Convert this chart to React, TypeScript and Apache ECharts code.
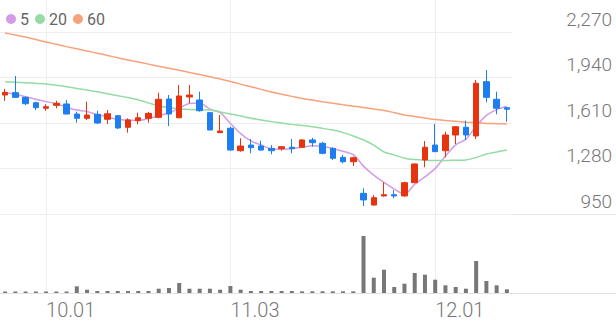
import React, { useEffect, useRef } from "react";
import * as echarts from "echarts";

const dates = [
  "09.25", "09.26", "09.29", "09.30",
  "10.01", "10.02", "10.10", "10.13", "10.14", "10.15", "10.16", "10.17",
  "10.20", "10.21", "10.22", "10.23", "10.24", "10.27", "10.28", "10.29", "10.30", "10.31",
  "11.03", "11.04", "11.05", "11.06", "11.07", "11.10", "11.11", "11.12", "11.13", "11.14",
  "11.17", "11.18", "11.19", "11.20", "11.21", "11.24", "11.25", "11.26", "11.27", "11.28",
  "12.01", "12.02", "12.03", "12.04", "12.05", "12.08", "12.09", "12.10",
];

const opens = [
  1813, 1830, 1796, 1757, 1717, 1738, 1748, 1675, 1644, 1673,
  1637, 1663, 1579, 1627, 1644, 1651, 1784, 1648, 1799, 1777,
  1685, 1540, 1572, 1409, 1450, 1443, 1426, 1424, 1434, 1434,
  1487, 1463, 1426, 1361, 1329, 1100, 1015, 1081, 1090, 1081,
  1177, 1342, 1450, 1409, 1523, 1579, 1516, 1910, 1782, 1721,
];
const closes = [
  1831, 1796, 1750, 1721, 1728, 1753, 1675, 1644, 1668, 1610,
  1677, 1574, 1632, 1648, 1680, 1782, 1675, 1806, 1813, 1699,
  1559, 1552, 1414, 1443, 1431, 1414, 1409, 1438, 1424, 1487,
  1467, 1390, 1354, 1329, 1358, 1052, 1068, 1090, 1081, 1177,
  1313, 1434, 1402, 1523, 1583, 1523, 1898, 1796, 1717, 1710,
];
const lows = [
  1770, 1795, 1740, 1704, 1699, 1717, 1673, 1612, 1632, 1603,
  1603, 1566, 1540, 1600, 1612, 1644, 1588, 1645, 1753, 1692,
  1559, 1540, 1409, 1402, 1390, 1409, 1383, 1409, 1390, 1433,
  1438, 1383, 1342, 1318, 1298, 1008, 1012, 1076, 1064, 1076,
  1175, 1289, 1402, 1361, 1458, 1487, 1494, 1760, 1673, 1619,
];
const highs = [
  1857, 1951, 1801, 1765, 1746, 1772, 1777, 1692, 1765, 1699,
  1704, 1668, 1644, 1685, 1689, 1830, 1813, 1886, 1886, 1837,
  1685, 1668, 1583, 1499, 1494, 1482, 1450, 1441, 1494, 1492,
  1503, 1474, 1434, 1378, 1366, 1136, 1088, 1180, 1124, 1184,
  1315, 1479, 1603, 1547, 1586, 1627, 1922, 1994, 1837, 1721,
];
const volumes = [
  150, 150, 150, 150, 150, 150, 150, 670, 330, 200,
  200, 200, 200, 200, 200, 430, 500, 1000, 430, 430,
  430, 330, 700, 330, 200, 200, 200, 200, 200, 170,
  170, 170, 170, 170, 170, 5700, 1530, 2330, 600, 930,
  2000, 1830, 1330, 770, 600, 430, 3200, 1200, 770, 370,
];
const ma5 = [
  1833, 1818, 1801, 1782, 1765, 1750, 1725, 1704, 1694, 1670,
  1655, 1635, 1632, 1628, 1642, 1663, 1683, 1718, 1751, 1755,
  1710, 1686, 1607, 1533, 1480, 1451, 1422, 1419, 1425, 1434,
  1445, 1441, 1424, 1405, 1380, 1297, 1232, 1179, 1130, 1094,
  1166, 1219, 1281, 1370, 1451, 1493, 1586, 1665, 1707, 1729,
];
const ma20 = [
  1910, 1906, 1902, 1898, 1893, 1884, 1873, 1861, 1849, 1836,
  1822, 1808, 1795, 1778, 1756, 1733, 1720, 1712, 1708, 1706,
  1704, 1690, 1675, 1660, 1644, 1632, 1620, 1610, 1600, 1592,
  1583, 1571, 1559, 1540, 1516, 1487, 1450, 1400, 1378, 1355,
  1345, 1340, 1338, 1338, 1340, 1342, 1360, 1385, 1400, 1414,
];
const ma60 = [
  2263, 2248, 2233, 2216, 2197, 2181, 2164, 2148, 2132, 2116,
  2100, 2083, 2067, 2052, 2037, 2022, 2007, 1992, 1977, 1961,
  1946, 1929, 1911, 1892, 1873, 1854, 1835, 1819, 1803, 1787,
  1776, 1764, 1753, 1742, 1732, 1722, 1711, 1701, 1685, 1668,
  1657, 1646, 1635, 1628, 1622, 1616, 1611, 1607, 1605, 1603,
];
const priceTicks = [950, 1280, 1610, 1940, 2270];
const tickLabels = ["10.01", "11.03", "12.01"];

const UP = "#e6340e";
const DOWN = "#1e7ef0";
const FONT = "Roboto, 'Noto Sans', sans-serif";

export default function App() {
  const ref = useRef<HTMLDivElement>(null);
  useEffect(() => {
    if (!ref.current) return;
    const chart = echarts.init(ref.current, null, { renderer: "svg" });
    const candle = opens.map((o, i) => [o, closes[i], lows[i], highs[i]]);
    const option: any = {
      animation: false,
      backgroundColor: "#fff",
      textStyle: { fontFamily: FONT },
      legend: {
        left: 1,
        top: 6,
        icon: "circle",
        itemWidth: 10,
        itemHeight: 10,
        itemGap: 6,
        data: ["5", "20", "60"],
        textStyle: { fontSize: 16, color: "#666", fontFamily: FONT, padding: [0, 0, 0, -1] },
      },
      grid: [
        { left: 0, top: 32, width: 512, height: 182 },
        { left: 0, top: 230, width: 512, height: 63 },
      ],
      xAxis: [
        {
          type: "category",
          gridIndex: 0,
          data: dates,
          boundaryGap: true,
          show: false,
        },
        {
          type: "category",
          gridIndex: 1,
          data: dates,
          boundaryGap: true,
          axisLine: { show: false },
          axisTick: { show: false },
          splitLine: { show: false },
          axisLabel: {
            interval: (idx: number, val: string) => tickLabels.indexOf(val) >= 0,
            align: "left",
            margin: 7,
            fontSize: 20,
            color: "#777",
            fontWeight: 300,
            fontFamily: FONT,
          },
        },
      ],
      yAxis: [
        {
          type: "value",
          gridIndex: 0,
          position: "right",
          min: priceTicks[0],
          max: priceTicks[priceTicks.length - 1],
          interval: priceTicks[1] - priceTicks[0],
          axisLine: { show: false },
          axisTick: { show: false },
          splitLine: { show: true, lineStyle: { color: "#efefef", width: 1 } },
          axisLabel: {
            align: "right",
            verticalAlign: "bottom",
            margin: 100,
            fontSize: 19,
            lineHeight: 20,
            padding: [0, 0, 3, 0],
            color: "#777",
            fontWeight: 300,
            fontFamily: FONT,
            formatter: (v: number) => v.toLocaleString("en-US"),
          },
        },
        {
          type: "value",
          gridIndex: 1,
          min: 0,
          max: 6300,
          show: false,
          splitLine: { show: false },
        },
      ],
      series: [
        {
          type: "candlestick",
          name: "price",
          xAxisIndex: 0,
          yAxisIndex: 0,
          data: candle,
          barWidth: 6,
          itemStyle: {
            color: UP,
            color0: DOWN,
            borderColor: UP,
            borderColor0: DOWN,
            borderWidth: 1,
          },
          z: 5,
        },
        {
          type: "line",
          name: "5",
          data: ma5,
          xAxisIndex: 0,
          yAxisIndex: 0,
          symbol: "none",
          smooth: 0.3,
          color: "#d49be9",
          lineStyle: { color: "#d49be9", width: 1.5 },
          z: 4,
        },
        {
          type: "line",
          name: "20",
          data: ma20,
          xAxisIndex: 0,
          yAxisIndex: 0,
          symbol: "none",
          smooth: 0.3,
          color: "#94dba4",
          lineStyle: { color: "#94dba4", width: 1.5 },
          z: 4,
        },
        {
          type: "line",
          name: "60",
          data: ma60,
          xAxisIndex: 0,
          yAxisIndex: 0,
          symbol: "none",
          smooth: 0.3,
          color: "#f8a27c",
          lineStyle: { color: "#f8a27c", width: 1.5 },
          z: 4,
        },
        {
          type: "bar",
          name: "volume",
          xAxisIndex: 1,
          yAxisIndex: 1,
          data: volumes,
          barWidth: 4,
          itemStyle: { color: "#777" },
        },
      ],
    };
    chart.setOption(option);

    const xs = tickLabels.map((d) => chart.convertToPixel({ xAxisIndex: 0 }, d) as number);
    const yBottom = chart.convertToPixel({ yAxisIndex: 0 }, priceTicks[0]) as number;
    const yVol = chart.convertToPixel({ yAxisIndex: 1 }, 0) as number;
    const graphic: any[] = xs.map((x) => ({
      type: "line",
      silent: true,
      z: -10,
      shape: { x1: Math.round(x) + 0.5, y1: 0, x2: Math.round(x) + 0.5, y2: Math.round(yVol) },
      style: { stroke: "#eeeeee", lineWidth: 1 },
    }));
    graphic.push({
      type: "line",
      silent: true,
      z: -5,
      shape: { x1: 0, y1: Math.round(yBottom) + 0.5, x2: 616, y2: Math.round(yBottom) + 0.5 },
      style: { stroke: "#e8e8e8", lineWidth: 1 },
    });
    graphic.push({
      type: "line",
      silent: true,
      z: -5,
      shape: { x1: 0, y1: Math.round(yVol) + 0.5, x2: 616, y2: Math.round(yVol) + 0.5 },
      style: { stroke: "#e2e2e2", lineWidth: 1 },
    });
    chart.setOption({ graphic });

    return () => chart.dispose();
  }, []);
  return (
    <div
      ref={ref}
      style={{ position: "fixed", left: 0, top: 0, width: 616, height: 321, background: "#fff" }}
    />
  );
}
